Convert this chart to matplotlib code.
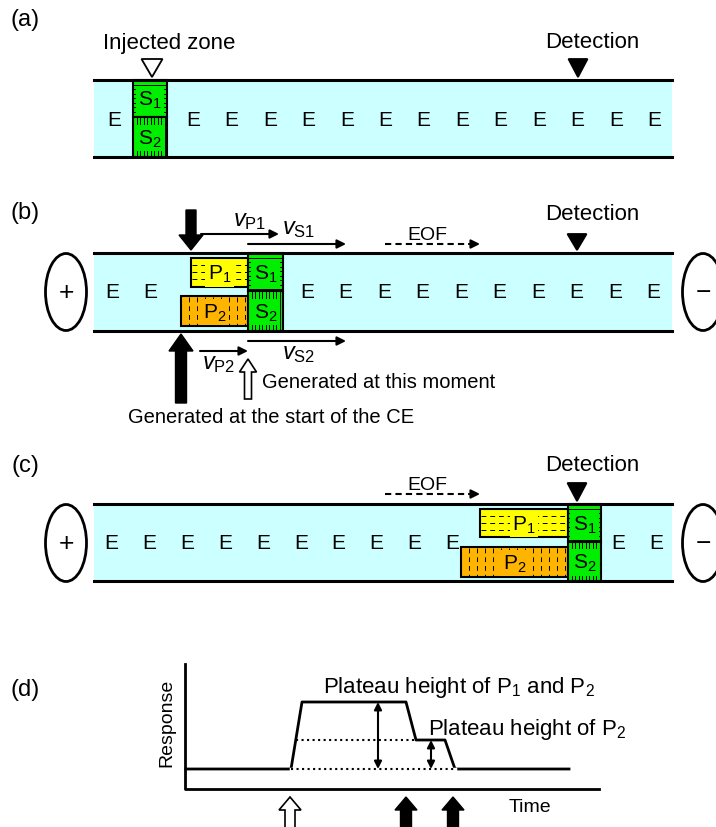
import numpy as np
import matplotlib
matplotlib.use('Agg')
import matplotlib.pyplot as plt
from matplotlib.patches import Rectangle, Ellipse, Polygon

plt.rcParams['font.family'] = ['Liberation Sans', 'DejaVu Sans']
plt.rcParams['mathtext.fontset'] = 'custom'
plt.rcParams['mathtext.rm'] = 'Liberation Sans'
plt.rcParams['mathtext.it'] = 'Liberation Sans:italic'
plt.rcParams['mathtext.default'] = 'regular'

# colours
CYAN = '#CCFFFF'
GREEN = '#00EE00'
YELLOW = '#FFFF00'
ORANGE = '#FFB400'

# capillary ends (pixels)
CAP_X0, CAP_X1 = 94, 672

# E (electrolyte) positions in each panel
a_e_x = [114, 193, 231, 270, 308, 347, 385, 423, 462, 500, 539, 577, 616, 654]
b_e_x = [112, 150, 307, 345, 384, 422, 461, 499, 538, 576, 615, 653]
c_e_x = [111, 149, 187, 225, 263, 301, 338, 376, 414, 452, 618, 656]

# panel (d) response curve
resp_t = [186, 291, 302, 406, 416, 445, 455, 569]
resp_y = [770, 770, 703, 703, 741, 741, 770, 770]

fig = plt.figure(figsize=(7.16, 8.28), dpi=100)
ax = fig.add_axes([0, 0, 1, 1])
ax.set_xlim(0, 716)
ax.set_ylim(828, 0)
ax.axis('off')


def capillary(top, bot):
    ax.add_patch(Rectangle((CAP_X0, top), CAP_X1 - CAP_X0, bot - top, fc=CYAN, ec='none', zorder=1))
    ax.plot([CAP_X0, CAP_X1], [top, top], color='k', lw=2.2, zorder=6)
    ax.plot([CAP_X0, CAP_X1], [bot, bot], color='k', lw=2.2, zorder=6)


def es(xs, y):
    for x in xs:
        ax.text(x, y, 'E', fontsize=15, ha='center', va='center', zorder=2)


def zone(x0, x1, y0, y1, fc, orient, step, label, dashed=False):
    ax.add_patch(Rectangle((x0, y0), x1 - x0, y1 - y0, fc=fc, ec='k', lw=1.5, zorder=3))
    ls = (0, (5, 4)) if dashed else '-'
    if orient == 'h':
        for y in np.arange(y0 + step, y1 - 1, step):
            ax.plot([x0 + 1, x1 - 1], [y, y], color='k', lw=0.7, ls=ls, zorder=3.5)
    else:
        for x in np.arange(x0 + step, x1 - 1, step):
            ax.plot([x, x], [y0 + 1, y1 - 1], color='k', lw=0.7, ls=ls, zorder=3.5)
    ax.text((x0 + x1) / 2, (y0 + y1) / 2 + 1, label, fontsize=15, ha='center', va='center', zorder=4,
            bbox=dict(boxstyle='square,pad=0.12', fc=fc, ec='none'))


def tri(x, ytop, ybot, w, filled=True):
    ax.add_patch(Polygon([(x - w / 2, ytop), (x + w / 2, ytop), (x, ybot)], closed=True,
                         fc='k' if filled else 'white', ec='k', lw=1.3, zorder=6))


def electrode(x, y, sign):
    ax.add_patch(Ellipse((x, y), 41, 77, fill=False, ec='k', lw=2))
    ax.text(x, y, sign, fontsize=19, ha='center', va='center')


def thin_arrow(x0, x1, y, dashed=False):
    if dashed:
        ax.plot([x0, x1 - 10], [y, y], color='k', lw=1.5, ls=(0, (3, 2)))
        ax.annotate('', xy=(x1, y), xytext=(x1 - 11, y),
                    arrowprops=dict(arrowstyle='-|>', color='k', lw=1.5, mutation_scale=13,
                                    shrinkA=0, shrinkB=0))
    else:
        ax.annotate('', xy=(x1, y), xytext=(x0, y),
                    arrowprops=dict(arrowstyle='-|>', color='k', lw=1.5, mutation_scale=13,
                                    shrinkA=0, shrinkB=0))


# ---------- (a) ----------
ax.text(25, 20, '(a)', fontsize=17, ha='center', va='center')
capillary(81, 158)
es(a_e_x, 120)
zone(133, 167, 81, 118, GREEN, 'h', 4.5, 'S$_1$')
zone(133, 167, 118, 158, GREEN, 'v', 3.5, 'S$_2$')
ax.text(169, 43, 'Injected zone', fontsize=16, ha='center', va='center')
tri(152, 60, 78, 21, filled=False)
ax.text(592, 43, 'Detection', fontsize=16, ha='center', va='center')
tri(578, 60, 78, 19)

# ---------- (b) ----------
ax.text(25, 213, '(b)', fontsize=17, ha='center', va='center')
capillary(254, 332)
es(b_e_x, 293)
zone(191, 248, 259, 288, YELLOW, 'h', 7, 'P$_1$', dashed=True)
zone(181, 248, 297, 327, ORANGE, 'v', 8, 'P$_2$', dashed=True)
zone(248, 283, 254, 292, GREEN, 'h', 4.5, 'S$_1$')
zone(248, 283, 292, 332, GREEN, 'v', 3.5, 'S$_2$')
electrode(66, 293, '+')
electrode(703, 293, '\u2212')
ax.text(592, 215, 'Detection', fontsize=16, ha='center', va='center')
tri(577, 235, 251, 19)
ax.arrow(191, 211, 0, 40, width=10, head_width=24, head_length=15,
         length_includes_head=True, fc='k', ec='k', zorder=7)
thin_arrow(201, 279, 235)
ax.text(233, 226, r'$\mathit{v}_{\mathrm{P1}}$', fontsize=17, ha='left', va='baseline')
thin_arrow(248, 346, 245)
ax.text(282, 234, r'$\mathit{v}_{\mathrm{S1}}$', fontsize=17, ha='left', va='baseline')
thin_arrow(385, 480, 245, dashed=True)
ax.text(427, 236, 'EOF', fontsize=14, ha='center', va='center')
# below the capillary
ax.arrow(181, 404, 0, -69, width=11, head_width=24, head_length=17,
         length_includes_head=True, fc='k', ec='k', zorder=7)
thin_arrow(200, 248, 352)
ax.text(202, 369, r'$\mathit{v}_{\mathrm{P2}}$', fontsize=17, ha='left', va='baseline')
thin_arrow(248, 346, 342)
ax.text(282, 359, r'$\mathit{v}_{\mathrm{S2}}$', fontsize=17, ha='left', va='baseline')
ax.arrow(248, 400, 0, -40, width=7, head_width=17, head_length=13,
         length_includes_head=True, fc='white', ec='k', lw=1.2, zorder=7)
ax.text(262, 383, 'Generated at this moment', fontsize=14.5, ha='left', va='center')
ax.text(271, 418, 'Generated at the start of the CE', fontsize=14.5, ha='center', va='center')

# ---------- (c) ----------
ax.text(25, 466, '(c)', fontsize=17, ha='center', va='center')
capillary(505, 582)
es(c_e_x, 544)
zone(480, 568, 510, 538, YELLOW, 'h', 7, 'P$_1$', dashed=True)
zone(461, 568, 548, 578, ORANGE, 'v', 8, 'P$_2$', dashed=True)
zone(568, 601, 505, 543, GREEN, 'h', 4.5, 'S$_1$')
zone(568, 601, 543, 582, GREEN, 'v', 3.5, 'S$_2$')
electrode(66, 544, '+')
electrode(703, 544, '\u2212')
ax.text(592, 466, 'Detection', fontsize=16, ha='center', va='center')
tri(577, 484, 502, 19)
thin_arrow(385, 480, 495, dashed=True)
ax.text(427, 486, 'EOF', fontsize=14, ha='center', va='center')

# ---------- (d) ----------
ax.text(25, 690, '(d)', fontsize=17, ha='center', va='center')
ax.plot([185, 185, 599], [665, 790, 790], color='k', lw=2)
ax.plot(resp_t, resp_y, color='k', lw=2)
ax.plot([291, 455], [770, 770], color='white', lw=2.5)
ax.plot([291, 455], [770, 770], color='k', lw=1.5, ls=':')
ax.plot([296, 416], [741, 741], color='k', lw=1.5, ls=':')
ax.annotate('', xy=(378, 703), xytext=(378, 770),
            arrowprops=dict(arrowstyle='<|-|>', color='k', lw=1.5, mutation_scale=11,
                            shrinkA=0, shrinkB=0))
ax.annotate('', xy=(431, 741), xytext=(431, 770),
            arrowprops=dict(arrowstyle='<|-|>', color='k', lw=1.5, mutation_scale=11,
                            shrinkA=0, shrinkB=0))
ax.text(323, 693, 'Plateau height of P$_1$ and P$_2$', fontsize=16, ha='left', va='baseline')
ax.text(428, 735, 'Plateau height of P$_2$', fontsize=16, ha='left', va='baseline')
ax.text(167, 723, 'Response', fontsize=14, rotation=90, ha='center', va='center')
ax.text(530, 808, 'Time', fontsize=14, ha='center', va='center')
ax.arrow(290, 832, 0, -34, width=10, head_width=22, head_length=13,
         length_includes_head=True, fc='white', ec='k', lw=1.2)
for x in [406, 453]:
    ax.arrow(x, 832, 0, -34, width=11, head_width=22, head_length=13,
             length_includes_head=True, fc='k', ec='k')

fig.savefig('out.png', dpi=100)
